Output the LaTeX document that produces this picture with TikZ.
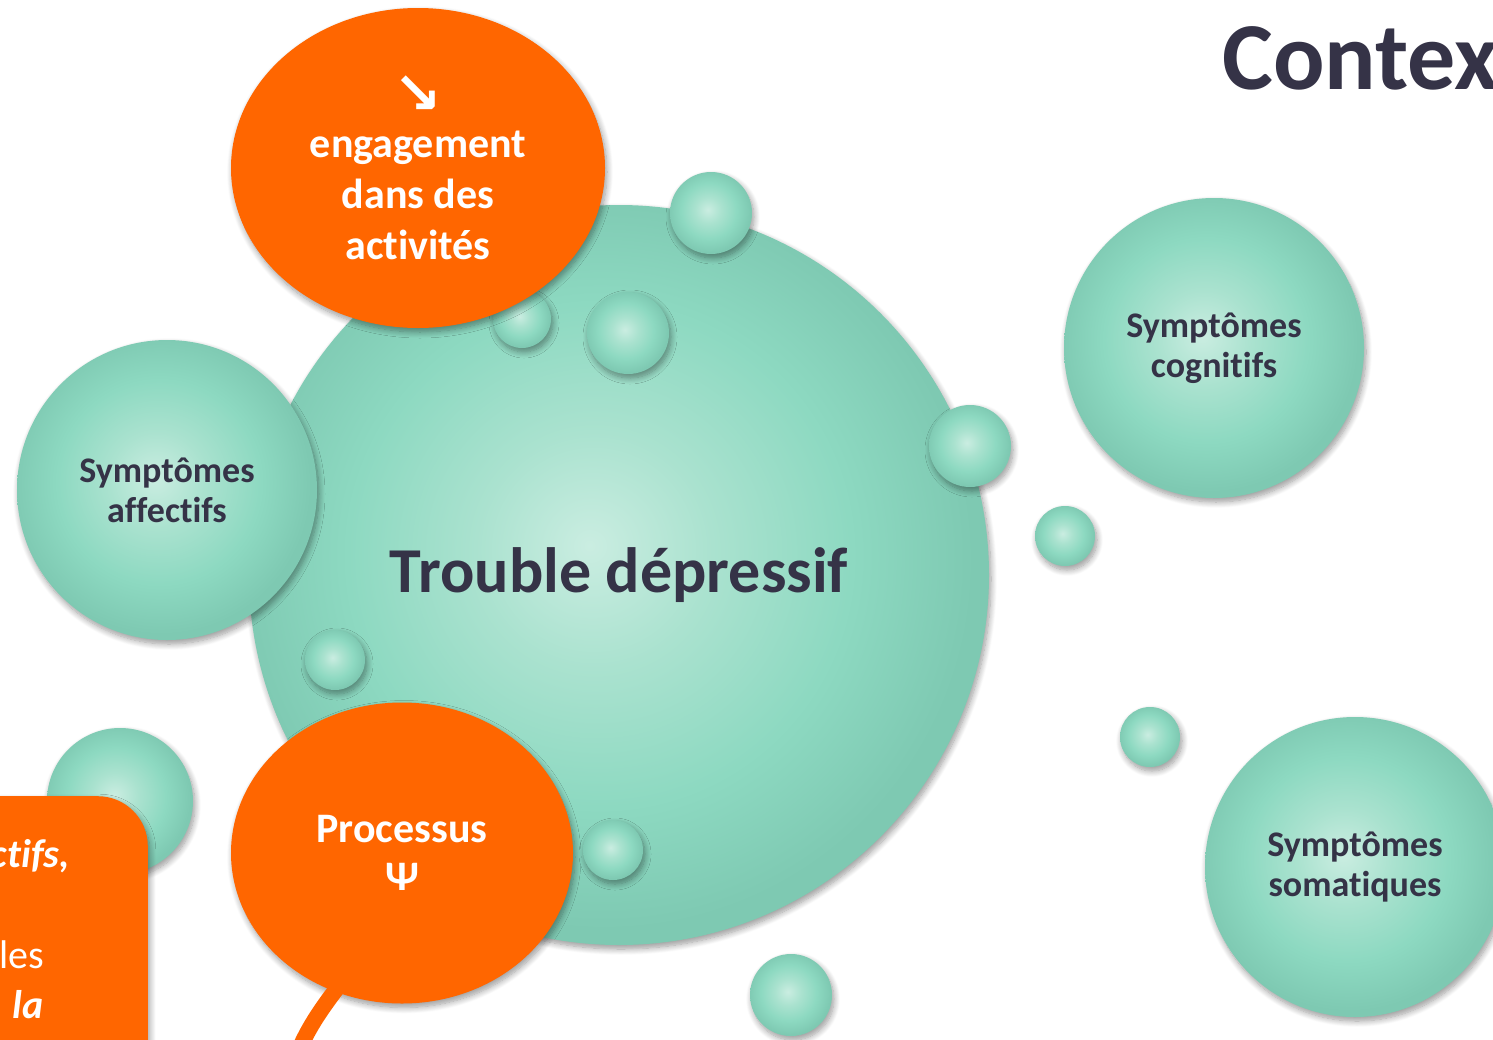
\documentclass[tikz,border=0pt]{standalone}
\usepackage{fontspec}
\setmainfont[Ligatures=NoCommon]{Carlito}
\newfontfamily\arrowfont{DejaVu Sans}
\usetikzlibrary{shapes.geometric, shadows.blur}

\definecolor{teallight}{RGB}{202,237,225}
\definecolor{tealsoft}{RGB}{170,226,207}
\definecolor{tealmid}{RGB}{141,217,193}
\definecolor{tealedge}{RGB}{126,201,178}
\definecolor{orangefill}{RGB}{255,102,0}
\definecolor{darktext}{RGB}{53,51,71}

\pgfdeclareradialshading{bubbleshade}{\pgfpoint{-2bp}{2bp}}{%
  color(0bp)=(teallight); color(8bp)=(tealsoft); color(17bp)=(tealmid);
  color(25bp)=(tealedge); color(50bp)=(tealedge)}

\begin{document}
\begin{tikzpicture}[
    x=1pt, y=-1pt,
    font=\bfseries,
    softshadow/.style={blur shadow={shadow xshift=2pt, shadow yshift=-4pt, shadow blur radius=6pt, shadow blur steps=10, shadow opacity=40}},
    bubble/.style={circle, shading=bubbleshade, inner sep=0pt, softshadow},
    symptom/.style={bubble, minimum size=300pt, align=center, text=darktext, font=\bfseries\fontsize{36}{40}\selectfont},
    callout/.style={ellipse, fill=orangefill, inner sep=0pt, align=center, text=white, softshadow},
    tail/.style={draw=orangefill, line width=16pt, shorten <=-14pt},
    panel/.style={rectangle, fill=orangefill, rounded corners=50pt, minimum width=400pt, minimum height=400pt, softshadow},
    paneltext/.style={inner sep=0pt, text=white, font=\fontsize{40}{50}\selectfont}
]
\useasboundingbox (0,0) rectangle (1493,1039);

% Main disorder
\node[bubble, minimum size=740pt, text=darktext, font=\bfseries\fontsize{64}{76}\selectfont] (trouble) at (619,575) {Trouble dépressif};

% Small drops
\node[bubble, minimum size=82pt] (dropa) at (711,213) {};
\node[bubble, minimum size=58pt] (dropb) at (522,319) {};
\node[bubble, minimum size=82pt] (dropc) at (628,333) {};
\node[bubble, minimum size=82pt] (dropd) at (970,446) {};
\node[bubble, minimum size=60pt] (drope) at (1065,536) {};
\node[bubble, minimum size=60pt] (dropf) at (335,660) {};
\node[bubble, minimum size=146pt] (dropg) at (120,801) {};
\node[bubble, minimum size=60pt] (droph) at (613,850) {};
\node[bubble, minimum size=82pt] (dropi) at (791,995) {};
\node[bubble, minimum size=60pt] (dropj) at (1150,737) {};

% Symptoms
\node[symptom] (affectifs) at (167,490) {Symptômes\\affectifs};
\node[symptom] (cognitifs) at (1214,348) {Symptômes\\cognitifs};
\node[symptom] (somatiques) at (1355,867) {Symptômes\\somatiques};

% Orange callouts
\node[callout, minimum width=374pt, minimum height=320pt, font=\bfseries\fontsize{42}{51}\selectfont] (engage) at (418,168)
    {{\arrowfont\fontsize{58}{51}\selectfont ↘}\\[-7pt]engagement\\dans des\\activités};
\node[callout, minimum width=342pt, minimum height=301pt, font=\bfseries\fontsize{42}{48}\selectfont] (proc) at (402,853) {Processus\\Ψ};
\coordinate (tailend) at (293,1064);
\draw[tail] (proc.244) to[bend right=8] (tailend);

% Bottom left panel
\node[panel, anchor=north east] (box) at (148,796) {};
\node[paneltext, anchor=base east] (ctifs) at (70,867) {\bfseries\itshape ctifs,};
\node[paneltext, anchor=base east] (les) at (44,968) {les};
\node[paneltext, anchor=base east] (la) at (44,1018) {\bfseries\itshape la};

% Title
\node[anchor=base west, inner sep=0pt, text=darktext, font=\bfseries\fontsize{96}{110}\selectfont] (title) at (1222,89) {Contex};

\end{tikzpicture}
\end{document}
